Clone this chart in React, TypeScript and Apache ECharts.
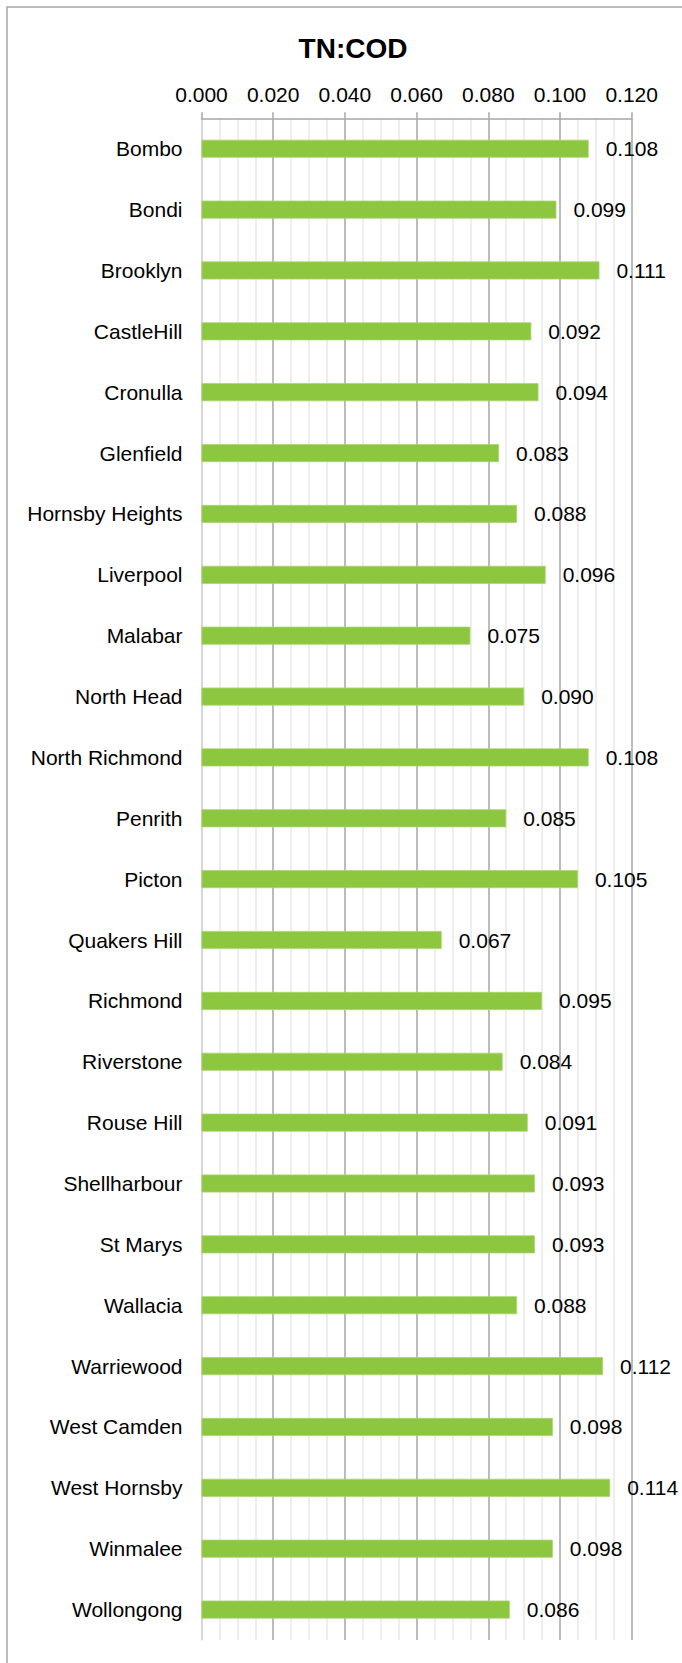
import React, { useEffect, useRef } from "react";
import * as echarts from "echarts";

const categories = [
  "Bombo", "Bondi", "Brooklyn", "CastleHill", "Cronulla", "Glenfield",
  "Hornsby Heights", "Liverpool", "Malabar", "North Head", "North Richmond",
  "Penrith", "Picton", "Quakers Hill", "Richmond", "Riverstone", "Rouse Hill",
  "Shellharbour", "St Marys", "Wallacia", "Warriewood", "West Camden",
  "West Hornsby", "Winmalee", "Wollongong",
];
const values = [
  0.108, 0.099, 0.111, 0.092, 0.094, 0.083, 0.088, 0.096, 0.075, 0.09,
  0.108, 0.085, 0.105, 0.067, 0.095, 0.084, 0.091, 0.093, 0.093, 0.088,
  0.112, 0.098, 0.114, 0.098, 0.086,
];
const title = "TN:COD";
const axisMin = 0;
const axisMax = 0.12;
const axisInterval = 0.02;

export default function App() {
  const ref = useRef<HTMLDivElement>(null);
  useEffect(() => {
    if (!ref.current) return;
    const chart = echarts.init(ref.current, null, { renderer: "svg" });
    const font = "Arial, 'Liberation Sans', sans-serif";
    chart.setOption({
      animation: false,
      backgroundColor: "#ffffff",
      textStyle: { fontFamily: font },
      title: {
        text: title,
        left: 348,
        top: 29,
        textAlign: "center",
        textStyle: { fontSize: 28, fontWeight: "bold", color: "#000000", fontFamily: font },
      },
      graphic: [
        {
          type: "rect",
          shape: { x: 7, y: 7, width: 700, height: 1700 },
          style: { fill: "none", stroke: "#a6a6a6", lineWidth: 1.5 },
          silent: true,
          z: 100,
        },
      ],
      grid: { left: 201.5, right: 50.3, top: 118.3, bottom: 23, containLabel: false },
      xAxis: {
        type: "value",
        position: "top",
        min: axisMin,
        max: axisMax,
        interval: axisInterval,
        axisLabel: {
          fontSize: 21,
          color: "#000000",
          margin: 13,
          formatter: (v: number) => v.toFixed(3),
        },
        axisLine: { show: true, lineStyle: { color: "#a6a6a6", width: 1.5 } },
        axisTick: { show: true, length: 6, lineStyle: { color: "#a6a6a6", width: 1.5 } },
        splitLine: { show: true, lineStyle: { color: "#a6a6a6", width: 1.5 } },
        minorTick: { show: false, splitNumber: 4 },
        minorSplitLine: { show: true, lineStyle: { color: "#e9e9e9", width: 1.5 } },
      },
      yAxis: {
        type: "category",
        inverse: true,
        data: categories,
        axisLabel: { fontSize: 21, color: "#000000", margin: 19 },
        axisLine: { show: true, lineStyle: { color: "#e0e0e0", width: 1.5 } },
        axisTick: { show: false },
        splitLine: { show: false },
      },
      series: [
        {
          type: "bar",
          data: values,
          barWidth: 18,
          itemStyle: { color: "#8dc63f", borderColor: "#a9d66f", borderWidth: 0.8 },
          z: 3,
          label: {
            show: true,
            position: "right",
            distance: 17,
            fontSize: 21,
            color: "#000000",
            formatter: (p: any) => Number(p.value).toFixed(3),
          },
        },
      ],
    });
    return () => chart.dispose();
  }, []);
  return (
    <div
      ref={ref}
      style={{ position: "fixed", left: 0, top: 0, width: 682, height: 1663 }}
    />
  );
}
